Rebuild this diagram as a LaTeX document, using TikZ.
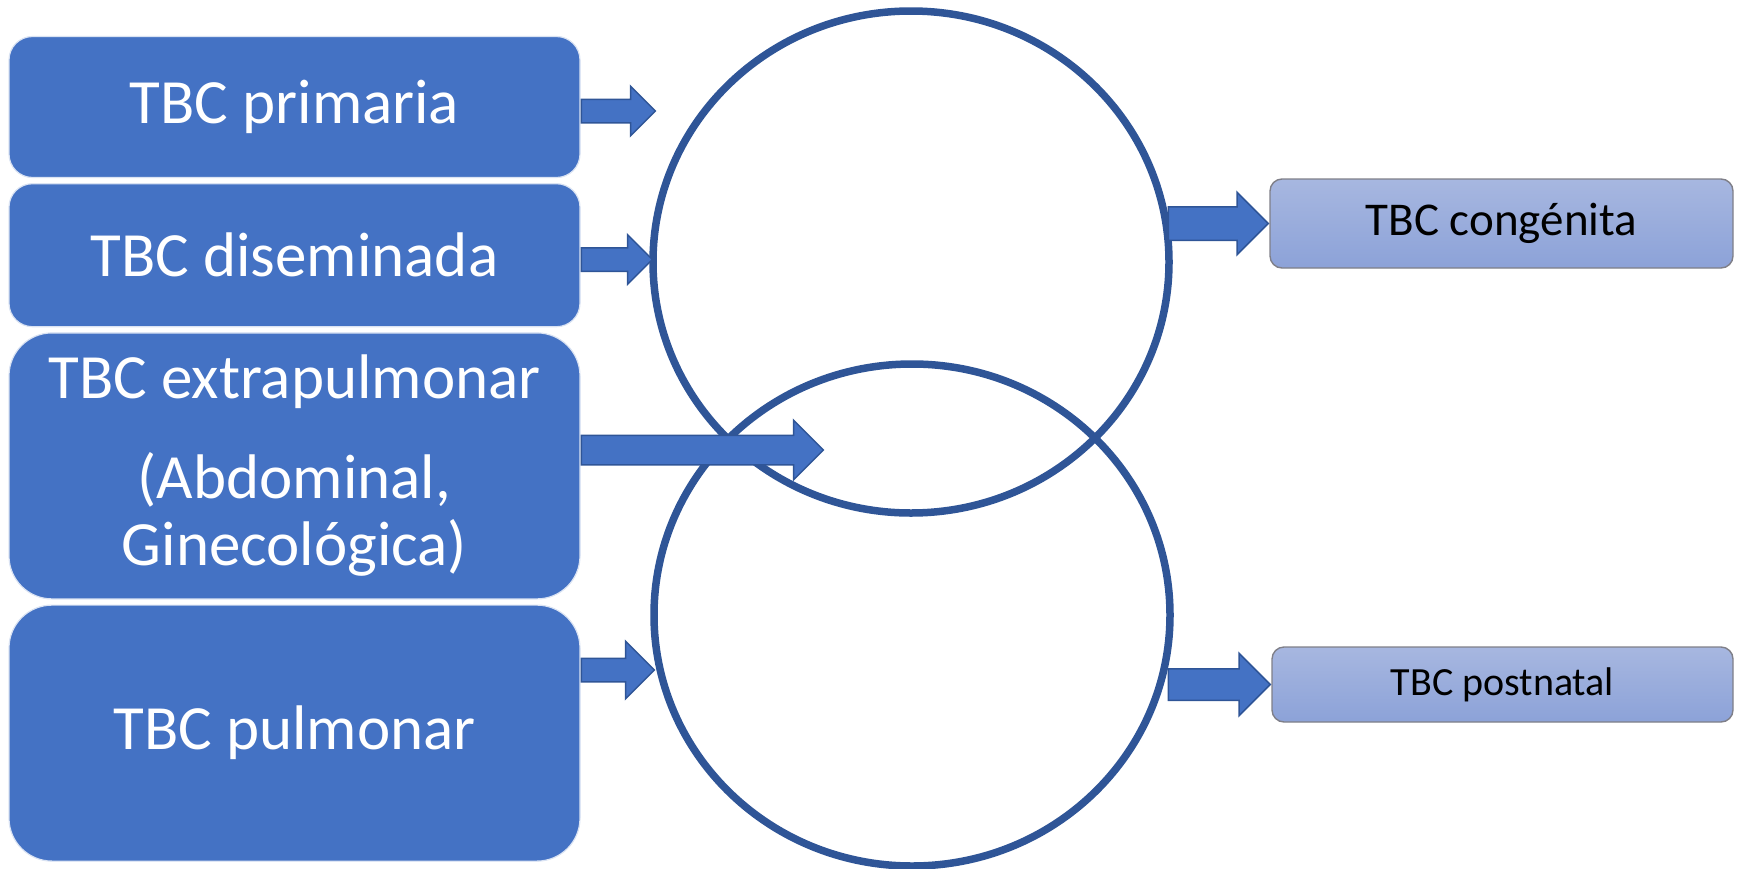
\documentclass[tikz,border=0pt]{standalone}
\usepackage{fontspec}
\setmainfont{Carlito}
\usepackage{tikz}
\usetikzlibrary{positioning,shapes.geometric,shapes.arrows}
\definecolor{tbblue}{HTML}{4472C4}
\definecolor{tbdark}{HTML}{2F5597}
\definecolor{tblight}{HTML}{A7B7E0}
\definecolor{tbmid}{HTML}{8CA2D8}
\definecolor{tbgray}{HTML}{7F7F88}
\tikzset{
  tb/.style={draw, align=center, inner sep=0pt},
  tleft/.style={tb, fill=tbblue, draw=white!80!tbblue, line width=0.6pt, text=white,
                font=\fontsize{31.5}{33.5}\selectfont, minimum width=285.5pt,
                rounded corners=11.75pt},
  tright/.style={tb, top color=tblight, bottom color=tbmid, draw=tbgray,
                 line width=0.7pt, rounded corners=6pt},
  circ/.style={ellipse, draw=tbdark, line width=3.75pt, minimum width=258pt,
               minimum height=251pt, inner sep=0pt},
  ar/.style={single arrow, draw=tbdark, fill=tbblue, line width=0.75pt,
             inner xsep=0pt, single arrow head indent=0pt, minimum width=0pt},
}

\begin{document}
\begin{tikzpicture}[x=0.5pt, y=-0.5pt, node distance=2.5pt]
  \useasboundingbox (0,0) rectangle (1746,868);
  % two overlapping circles
  \node[circ] (c1) at (911,262) {};
  \node[circ] (c2) at (912,615) {};
  % forms of TB on the left
  \node[tleft, minimum height=70.5pt] (prim) at (294.5,107) {TBC primaria};
  \node[tleft, minimum height=71.5pt, below=of prim] (dise) {TBC diseminada};
  \node[tleft, minimum height=133pt, rounded corners=21.5pt, below=of dise] (extra)
    {TBC extrapulmonar\\[16.5pt](Abdominal,\\Ginecológica)};
  \node[tleft, minimum height=128pt, rounded corners=21.5pt, below=of extra] (pulm)
    {TBC pulmonar};
  % results on the right
  \node[tright, minimum width=231.5pt, minimum height=44.5pt,
        font=\fontsize{23.5}{28}\selectfont] (cong) at (1501.5,223.5) {TBC congénita};
  \node[tright, minimum width=230.5pt, minimum height=37.5pt,
        font=\fontsize{20}{24}\selectfont] (post) at (1502.5,684.5) {TBC postnatal};
  % block arrows
  \node[ar, anchor=tail, inner ysep=5.5pt, single arrow head extend=6.5pt,
        minimum height=37pt] (a1) at (prim.east |- 0,111) {};
  \node[ar, anchor=tail, inner ysep=5.5pt, single arrow head extend=6.5pt,
        minimum height=35.5pt] (a2) at (dise.east |- 0,259.5) {};
  \node[ar, anchor=tail, inner ysep=7pt, single arrow head extend=7.5pt,
        minimum height=121pt] (a3) at (extra.east |- 0,450) {};
  \node[ar, anchor=tail, inner ysep=5.5pt, single arrow head extend=8.5pt,
        minimum height=36.5pt] (a4) at (pulm.east |- 0,670) {};
  \node[ar, anchor=tip, inner ysep=8pt, single arrow head extend=7.25pt,
        minimum height=50pt] (a5) at (cong.west) {};
  \node[ar, anchor=tip, inner ysep=7.5pt, single arrow head extend=7.75pt,
        minimum height=51pt] (a6) at (post.west) {};
\end{tikzpicture}
\end{document}
